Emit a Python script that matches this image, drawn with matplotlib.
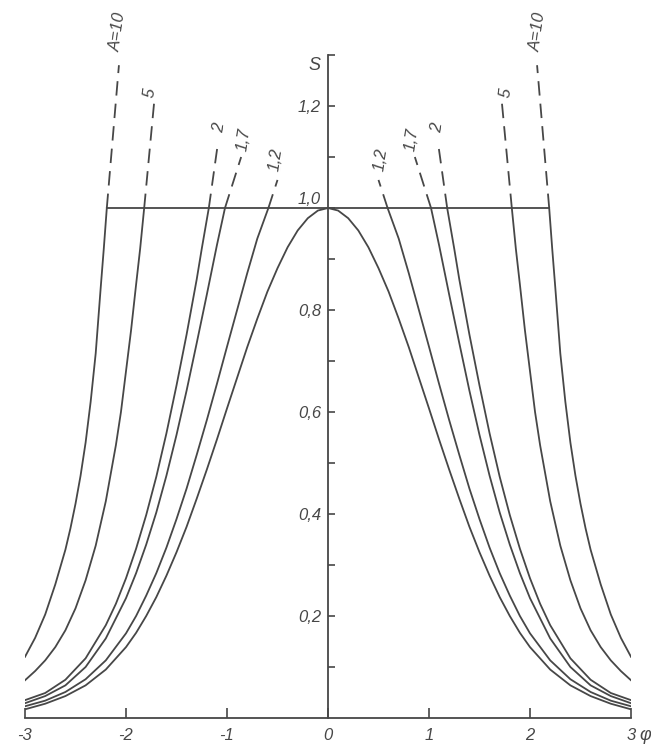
import numpy as np
import matplotlib
matplotlib.use("Agg")
import matplotlib.pyplot as plt
from matplotlib.transforms import offset_copy

# curve parameter A and the label text drawn at the top of each dashed branch
a_values = [1, 1.2, 1.7, 2, 5, 10]
a_labels = [None, "1,2", "1,7", "2", "5", "A=10"]

# right half of every curve (phi >= 0); left half is the mirror image
phi_a1 = [0.0, 0.1, 0.2, 0.3, 0.4, 0.5, 0.6, 0.7, 0.8, 0.9, 1.0, 1.1, 1.2, 1.3, 1.4,
          1.5, 1.6, 1.7, 1.8, 1.9, 2.0, 2.2, 2.4, 2.6, 2.8, 3.0]
s_a1 = [1.0, 0.995, 0.98, 0.956, 0.923, 0.882, 0.836, 0.783, 0.727, 0.667, 0.607, 0.546,
        0.487, 0.43, 0.375, 0.325, 0.279, 0.237, 0.2, 0.167, 0.139, 0.095, 0.064, 0.043,
        0.028, 0.017]

phi_a12 = [0.59, 0.7, 0.8, 0.9, 1.0, 1.1, 1.2, 1.3, 1.4, 1.5, 1.6, 1.7, 1.8, 1.9, 2.0,
           2.2, 2.4, 2.6, 2.8, 3.0]
s_a12 = [1.0, 0.94, 0.872, 0.8, 0.728, 0.655, 0.584, 0.516, 0.45, 0.39, 0.334, 0.284,
         0.24, 0.2, 0.166, 0.113, 0.076, 0.051, 0.034, 0.023]

phi_a17 = [1.02, 1.1, 1.2, 1.3, 1.4, 1.5, 1.6, 1.7, 1.8, 1.9, 2.0, 2.2, 2.4, 2.6, 2.8, 3.0]
s_a17 = [1.0, 0.927, 0.83, 0.735, 0.642, 0.555, 0.475, 0.403, 0.34, 0.284, 0.235, 0.156,
         0.1, 0.064, 0.043, 0.029]

phi_a2 = [1.18, 1.25, 1.3, 1.4, 1.5, 1.6, 1.7, 1.8, 1.9, 2.0, 2.1, 2.2, 2.4, 2.6, 2.8, 3.0]
s_a2 = [1.0, 0.92, 0.86, 0.752, 0.652, 0.558, 0.473, 0.398, 0.332, 0.274, 0.224, 0.182,
        0.117, 0.075, 0.049, 0.035]

phi_a5 = [1.82, 1.86, 1.9, 1.95, 2.0, 2.05, 2.1, 2.2, 2.3, 2.4, 2.5, 2.6, 2.7, 2.8, 2.9, 3.0]
s_a5 = [1.0, 0.92, 0.85, 0.76, 0.68, 0.6, 0.535, 0.425, 0.338, 0.27, 0.215, 0.172, 0.139,
        0.113, 0.092, 0.074]

phi_a10 = [2.19, 2.22, 2.25, 2.3, 2.35, 2.4, 2.45, 2.5, 2.55, 2.6, 2.7, 2.8, 2.9, 3.0]
s_a10 = [1.0, 0.92, 0.845, 0.715, 0.62, 0.54, 0.475, 0.42, 0.372, 0.33, 0.262, 0.203,
         0.157, 0.12]

# top end of the dashed part (S > 1) for A > 1
dash_top_phi = [None, 0.5, 0.86, 1.09, 1.72, 2.07]
dash_top_s = [None, 1.055, 1.10, 1.127, 1.21, 1.28]

curves = [(phi_a1, s_a1), (phi_a12, s_a12), (phi_a17, s_a17),
          (phi_a2, s_a2), (phi_a5, s_a5), (phi_a10, s_a10)]

x_ticks = [-3, -2, -1, 0, 1, 2, 3]
x_tick_labels = ["-3", "-2", "-1", "0", "1", "2", "3"]
y_ticks = [0.1, 0.2, 0.3, 0.4, 0.5, 0.6, 0.7, 0.8, 0.9, 1.0, 1.1, 1.2, 1.3]
y_tick_labels = ["", "0,2", "", "0,4", "", "0,6", "", "0,8", "", "1,0", "", "1,2", ""]

# label anchor points (phi, S) on the right side; left side mirrored
label_pos = [None, (0.52, 1.095), (0.83, 1.135), (1.08, 1.157), (1.76, 1.225), (2.08, 1.345)]

ink = "#474747"
plt.rcParams["font.family"] = ["Liberation Sans", "DejaVu Sans"]

fig = plt.figure(figsize=(6.51, 7.49), dpi=100)
ax = fig.add_axes([25 / 651, 31 / 749, 606 / 651, 673.2 / 749])
ax.set_xlim(-3, 3)
ax.set_ylim(0, 1.32)

for i, (phi, s) in enumerate(curves):
    phi = np.array(phi)
    s = np.array(s)
    if a_values[i] == 1:
        ax.plot(np.concatenate([-phi[::-1], phi[1:]]), np.concatenate([s[::-1], s[1:]]),
                color=ink, lw=1.3)
        continue
    for sign in (1, -1):
        ax.plot(sign * phi, s, color=ink, lw=1.3)
        ax.plot([sign * phi[0], sign * dash_top_phi[i]], [s[0], dash_top_s[i]],
                color=ink, lw=1.3, dashes=(8, 4.5))
        lx, ly = label_pos[i]
        ax.text(sign * lx, ly, a_labels[i], rotation=82, ha="center", va="center",
                fontsize=12, style="italic", color=ink, clip_on=False)

# S = 1 cap between the A = 10 branches
ax.hlines(1.0, -phi_a10[0], phi_a10[0], color=ink, lw=1.3)

for side in ("top", "right"):
    ax.spines[side].set_visible(False)
ax.spines["left"].set_position(("data", 0))
ax.spines["left"].set_bounds(0, 1.3)
ax.spines["bottom"].set_bounds(-3, 3)
for side in ("left", "bottom"):
    ax.spines[side].set_color(ink)
    ax.spines[side].set_linewidth(1.3)

ax.set_xticks(x_ticks, x_tick_labels)
ax.set_yticks(y_ticks, y_tick_labels)
ax.tick_params(axis="x", direction="in", length=7, width=1.2, color=ink, pad=7,
               labelsize=12, labelcolor=ink)
ax.tick_params(axis="y", direction="in", length=5, width=1.2, color=ink, pad=5,
               labelsize=12, labelcolor=ink)
for lab in ax.get_xticklabels() + ax.get_yticklabels():
    lab.set_style("italic")
# the 1,0 label sits just above the S = 1 cap line
one_label = ax.get_yticklabels()[y_tick_labels.index("1,0")]
one_label.set_transform(offset_copy(one_label.get_transform(), fig=fig, y=7, units="points"))

ax.text(3.14, -0.035, "φ", fontsize=13, style="italic", color=ink,
        ha="center", va="center", clip_on=False)
ax.text(-0.13, 1.28, "S", fontsize=13, style="italic", color=ink,
        ha="center", va="center", clip_on=False)

fig.savefig("out.png", dpi=100)
